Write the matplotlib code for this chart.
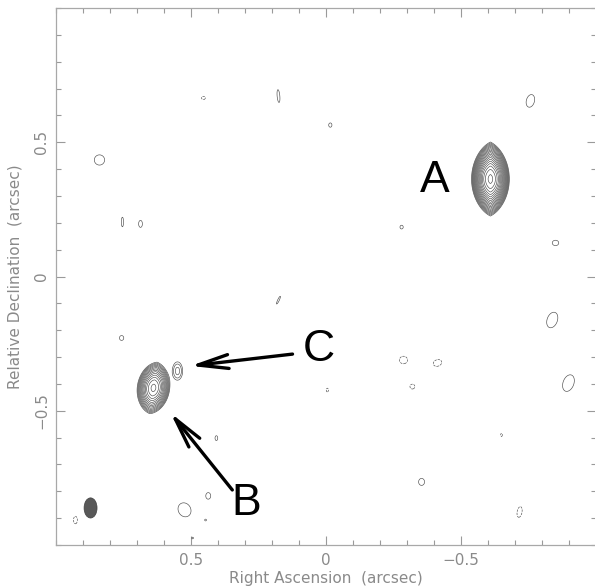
import numpy as np
import matplotlib
matplotlib.use("Agg")
import matplotlib.pyplot as plt
from matplotlib.patches import Ellipse
from matplotlib.ticker import FixedLocator, MultipleLocator

# ---------------- data ----------------
# Emission components: RA offset, Dec offset (arcsec), half-width / half-height of the
# lowest contour (arcsec), position angle (deg), peak (in units of lowest contour), lens shape
src_ra    = [-0.609,  0.639,  0.550]
src_dec   = [ 0.363, -0.415, -0.352]
src_hw    = [ 0.070,  0.060,  0.019]
src_hh    = [ 0.138,  0.097,  0.034]
src_pa    = [ 0.0,   -8.0,    0.0]
src_peak  = [ 563.0, 100.0,   2.3]
src_lens  = [ 0.7,    0.5,    0.0]

# Noise features (single contour, negative ones dashed)
noise_ra   = [0.839, -0.757, 0.176, 0.454, -0.016, 0.754, 0.687, -0.280, -0.850, -0.838,
              0.176, 0.757, -0.287, -0.413, -0.320, -0.898, -0.005, 0.406, -0.650, -0.354,
              0.524, 0.436, -0.717, 0.928, 0.446, 0.494]
noise_dec  = [0.434, 0.654, 0.672, 0.665, 0.564, 0.203, 0.196, 0.184, 0.125, -0.162,
              -0.088, -0.229, -0.311, -0.322, -0.410, -0.397, -0.423, -0.602, -0.590, -0.765,
              -0.869, -0.817, -0.877, -0.907, -0.907, -0.974]
noise_hw   = [0.019, 0.015, 0.005, 0.007, 0.006, 0.004, 0.007, 0.006, 0.012, 0.019,
              0.003, 0.008, 0.015, 0.016, 0.009, 0.020, 0.004, 0.005, 0.003, 0.011,
              0.023, 0.009, 0.009, 0.007, 0.003, 0.003]
noise_hh   = [0.019, 0.024, 0.024, 0.006, 0.008, 0.018, 0.013, 0.007, 0.010, 0.030,
              0.016, 0.009, 0.014, 0.012, 0.009, 0.032, 0.007, 0.009, 0.006, 0.013,
              0.027, 0.012, 0.020, 0.014, 0.003, 0.003]
noise_pa   = [0, -15, 5, 0, 0, 0, 0, 0, 0, -20,
              -25, 0, 0, 20, 0, -20, 0, 0, 0, 0,
              30, 0, -10, 0, 0, 0]
noise_peak = [1.3, 1.3, 1.3, -1.3, 1.3, 1.3, 1.3, 1.3, 1.3, 1.3,
              1.3, 1.3, -1.3, -1.3, -1.3, 1.3, -1.3, 1.3, -1.3, 1.3,
              1.3, 1.3, -1.3, -1.3, 1.3, 1.3]

# Contour levels (multiples of the lowest contour)
pos_levels = [2 ** (k / 2) for k in range(20)]
neg_levels = [-1.0]

# Restoring beam
beam_ra, beam_dec = 0.872, -0.862
beam_w, beam_h, beam_pa = 0.048, 0.075, 0.0

# Labels and arrows
label_text = ["A", "B", "C"]
label_ra   = [-0.402, 0.295, 0.028]
label_dec  = [0.359, -0.844, -0.272]
arrow_tail = [(0.347, -0.795), (0.124, -0.289)]
arrow_tip  = [(0.576, -0.508), (0.502, -0.333)]

xticks_major = [0.5, 0.0, -0.5]
xtick_labels = ["0.5", "0", "\u22120.5"]
yticks_major = [-0.5, 0.0, 0.5]
ytick_labels = ["\u22120.5", "0", "0.5"]

# ---------------- model image ----------------
N = 1200
ra_grid = np.linspace(-1, 1, N)
dec_grid = np.linspace(-1, 1, N)
RA, DEC = np.meshgrid(ra_grid, dec_grid)


def component(ra0, dec0, hw, hh, pa, peak, lens):
    xs = ra0 - RA          # screen-right direction
    ys = DEC - dec0
    t = np.deg2rad(pa)
    xr = xs * np.cos(t) + ys * np.sin(t)
    yr = -xs * np.sin(t) + ys * np.cos(t)
    xn = xr / hw
    yn = yr / hw
    q = hh / hw
    se = np.sqrt(xn ** 2 + (yn / q) ** 2)
    if lens > 0 and q > 1:
        d = (q ** 2 - 1) / 2
        sv = (np.abs(xn) * d + np.sqrt(xn ** 2 * d ** 2 + q ** 2 * (xn ** 2 + yn ** 2))) / q ** 2
        s = lens * sv + (1 - lens) * se
    else:
        s = se
    return np.sign(peak) * np.abs(peak) * np.exp(-np.log(abs(peak)) * s ** 2)


Z = np.zeros_like(RA)
for i in range(len(src_ra)):
    Z += component(src_ra[i], src_dec[i], src_hw[i], src_hh[i], src_pa[i], src_peak[i], src_lens[i])
for i in range(len(noise_ra)):
    Z += component(noise_ra[i], noise_dec[i], noise_hw[i], noise_hh[i], noise_pa[i], noise_peak[i], 0)

# ---------------- figure ----------------
W, H = 595, 587
fig = plt.figure(figsize=(W / 100, H / 100), dpi=100)
ax = fig.add_axes([56 / W, 42 / H, 540 / W, 537 / H])

ax.contour(RA, DEC, Z, levels=neg_levels + pos_levels, colors="#4a4a4a", linewidths=0.45)

ax.add_patch(Ellipse((beam_ra, beam_dec), beam_w, beam_h, angle=beam_pa,
                     facecolor="#585858", edgecolor="#404040", lw=0.5))

for txt, x, y in zip(label_text, label_ra, label_dec):
    ax.text(x, y, txt, fontsize=32, family=["Liberation Sans", "DejaVu Sans"],
            ha="center", va="center", color="black")
for tail, tip in zip(arrow_tail, arrow_tip):
    ax.annotate("", xy=tip, xytext=tail,
                arrowprops=dict(arrowstyle="->,head_length=1.1,head_width=0.25",
                                mutation_scale=20, lw=2.4, color="black",
                                shrinkA=0, shrinkB=0))

ax.set_xlim(1, -1)
ax.set_ylim(-1, 1)
gray = "#8a8a8a"
for sp in ax.spines.values():
    sp.set_color("#a8a8a8")
    sp.set_linewidth(0.9)

ax.xaxis.set_major_locator(FixedLocator(xticks_major))
ax.yaxis.set_major_locator(FixedLocator(yticks_major))
ax.set_xticklabels(xtick_labels)
ax.set_yticklabels(ytick_labels, rotation=90, va="center")
ax.xaxis.set_minor_locator(MultipleLocator(0.1))
ax.yaxis.set_minor_locator(MultipleLocator(0.1))
ax.tick_params(which="both", direction="in", top=True, right=True, color="#9a9a9a",
               width=0.8, labelcolor=gray, labelsize=11)
ax.tick_params(which="major", length=6.5)
ax.tick_params(axis="x", which="major", pad=6)
ax.tick_params(axis="y", which="major", pad=5)
ax.tick_params(which="minor", length=3.5)

ax.set_xlabel("Right Ascension  (arcsec)", fontsize=11, color=gray, labelpad=2)
ax.set_ylabel("Relative Declination  (arcsec)", fontsize=11, color=gray, labelpad=8)

fig.savefig("out.png", dpi=100)
